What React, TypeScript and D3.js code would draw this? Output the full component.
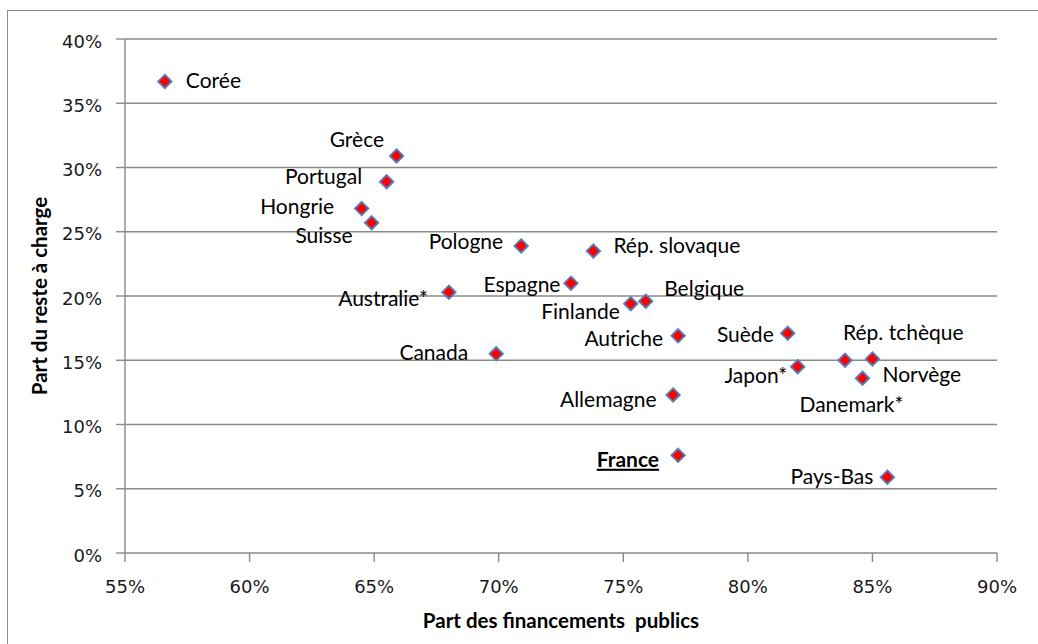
import React from "react";
import * as d3 from "d3";

const countries = [
  "Corée", "Grèce", "Portugal", "Hongrie", "Suisse", "Pologne", "Rép. slovaque",
  "Espagne", "Australie*", "Finlande", "Belgique", "Autriche", "Canada", "Allemagne",
  "Suède", "Japon*", "Rép. tchèque", "Danemark*", "Norvège", "Pays-Bas", "France",
];
const publicShare = [
  56.6, 65.9, 65.5, 64.5, 64.9, 70.9, 73.8,
  72.9, 68.0, 75.3, 75.9, 77.2, 69.9, 77.0,
  81.6, 82.0, 83.9, 85.0, 84.6, 85.6, 77.2,
];
const outOfPocket = [
  36.7, 30.9, 28.9, 26.8, 25.7, 23.9, 23.5,
  21.0, 20.3, 19.4, 19.6, 16.9, 15.5, 12.3,
  17.1, 14.5, 15.0, 15.1, 13.6, 5.9, 7.6,
];
const xTicks = [55, 60, 65, 70, 75, 80, 85, 90];
const yTicks = [0, 5, 10, 15, 20, 25, 30, 35, 40];

// label placement relative to marker (layout only)
const labelLayout: Record<string, { a: "start" | "end" | "middle"; dx: number; dy: number }> = {
  "Corée": { a: "start", dx: 21, dy: 7 },
  "Grèce": { a: "end", dx: -12.5, dy: -9 },
  "Portugal": { a: "end", dx: -24.5, dy: 2 },
  "Hongrie": { a: "end", dx: -27.5, dy: 5.5 },
  "Suisse": { a: "end", dx: -19, dy: 20 },
  "Pologne": { a: "end", dx: -18, dy: 3 },
  "Rép. slovaque": { a: "start", dx: 20, dy: 1.5 },
  "Espagne": { a: "end", dx: -10.5, dy: 8.5 },
  "Australie*": { a: "end", dx: -21, dy: 14 },
  "Finlande": { a: "end", dx: -11, dy: 15.5 },
  "Belgique": { a: "start", dx: 18.5, dy: -5 },
  "Autriche": { a: "end", dx: -15, dy: 10 },
  "Canada": { a: "end", dx: -28, dy: 6 },
  "Allemagne": { a: "end", dx: -16.5, dy: 12 },
  "Suède": { a: "end", dx: -14, dy: 8.5 },
  "Japon*": { a: "end", dx: -10.5, dy: 16 },
  "Rép. tchèque": { a: "start", dx: -2, dy: -20 },
  "Danemark*": { a: "middle", dx: -21, dy: 53 },
  "Norvège": { a: "start", dx: 20, dy: 3.5 },
  "Pays-Bas": { a: "end", dx: -14, dy: 7 },
  "France": { a: "end", dx: -19, dy: 11.4 },
};

const W = 1038;
const H = 644;
const left = 125, right = 997, top = 39, bottom = 553;

export default function App() {
  const x = d3.scaleLinear().domain([55, 90]).range([left, right]);
  const y = d3.scaleLinear().domain([0, 40]).range([bottom, top]);
  const gridColor = "#8a8a8a";
  const labelFont = "Lato, 'Open Sans', sans-serif";
  const tickFont = "'DejaVu Sans', Verdana, sans-serif";
  const diamond = d3.symbol().type(d3.symbolDiamond2).size(2 * 7.6 * 7.6)();

  return (
    <svg width={W} height={H} style={{ position: "absolute", left: 0, top: 0, background: "#fff" }}>
      <rect x={7.5} y={10.5} width={1045} height={660} fill="#fff" stroke="#8c8c8c" strokeWidth={1} />
      {/* gridlines */}
      {yTicks.filter((t) => t > 0).map((t) => (
        <line key={"g" + t} x1={left} x2={right} y1={y(t)} y2={y(t)} stroke={gridColor} strokeWidth={1.4} />
      ))}
      {/* y axis */}
      <line x1={left} x2={left} y1={top} y2={bottom} stroke={gridColor} strokeWidth={1.4} />
      {yTicks.map((t) => (
        <g key={"yt" + t}>
          <line x1={left - 9} x2={left} y1={y(t)} y2={y(t)} stroke={gridColor} strokeWidth={1.4} />
          <text x={102} y={y(t) + 8.5} textAnchor="end" fontFamily={tickFont} fontSize={18} fill="#1a1a1a">
            {t + "%"}
          </text>
        </g>
      ))}
      {/* x axis */}
      <line x1={left} x2={right} y1={bottom} y2={bottom} stroke={gridColor} strokeWidth={1.4} />
      {xTicks.map((t) => (
        <g key={"xt" + t}>
          <line x1={x(t)} x2={x(t)} y1={bottom} y2={bottom + 9} stroke={gridColor} strokeWidth={1.4} />
          <text x={x(t)} y={593} textAnchor="middle" fontFamily={tickFont} fontSize={18} fill="#1a1a1a">
            {t + "%"}
          </text>
        </g>
      ))}
      {/* axis titles */}
      <text
        x={(left + right) / 2}
        y={628}
        textAnchor="middle"
        fontFamily={labelFont}
        fontWeight="bold"
        fontSize={20.5}
        fill="#000"
        style={{ whiteSpace: "pre" }}
      >
        {"Part des financements  publics"}
      </text>
      <text
        transform={`translate(47, ${(top + bottom) / 2}) rotate(-90)`}
        textAnchor="middle"
        fontFamily={labelFont}
        fontWeight="bold"
        fontSize={20.5}
        fill="#000"
      >
        Part du reste à charge
      </text>
      {/* markers */}
      {countries.map((c, i) => (
        <path
          key={"m" + c}
          d={diamond || ""}
          transform={`translate(${x(publicShare[i])}, ${y(outOfPocket[i])})`}
          fill="#ff0000"
          stroke="#4f81bd"
          strokeWidth={1.8}
        />
      ))}
      {/* labels */}
      {countries.map((c, i) => {
        const l = labelLayout[c];
        const isFrance = c === "France";
        return (
          <text
            key={"l" + c}
            x={x(publicShare[i]) + l.dx}
            y={y(outOfPocket[i]) + l.dy}
            textAnchor={l.a}
            fontFamily={labelFont}
            fontSize={21}
            fontWeight={isFrance ? "bold" : "normal"}
            textDecoration={isFrance ? "underline" : undefined}
            fill="#000"
          >
            {c}
          </text>
        );
      })}
    </svg>
  );
}
